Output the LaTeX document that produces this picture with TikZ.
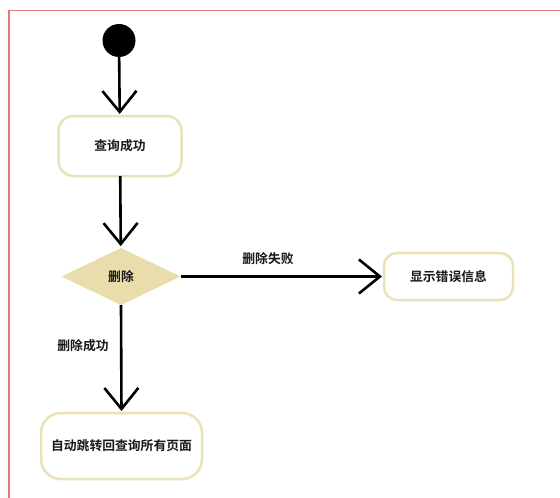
\documentclass[tikz,border=0pt]{standalone}
\usepackage{fontspec}
\newfontfamily\cjk{Noto Sans CJK SC}[BoldFont={Noto Sans CJK SC Bold}]
\usetikzlibrary{shapes.geometric,arrows.meta}
\definecolor{boxline}{HTML}{EAE2B8}
\definecolor{diafill}{HTML}{E9DEAB}
\definecolor{frame}{HTML}{E07A7A}
\tikzset{
  lbl/.style={font=\cjk\bfseries\fontsize{12.8}{14}\selectfont, text=black!90},
  actbox/.style={lbl, draw=boxline, line width=2.5pt, fill=white, rounded corners=15pt, inner sep=0pt, outer sep=0pt},
  flow/.style={line width=2.6pt, -{Straight Barb[length=21pt,width=34pt,line width=2.6pt]}, shorten >=2pt},
}
\begin{document}
\begin{tikzpicture}[x=1pt,y=-1pt]
\useasboundingbox (0,0) rectangle (560,498);
\fill[white] (0,0) rectangle (560,498);
\draw[frame, line width=1.5pt] (9,498) -- (9,10.5) -- (560,10.5);

\node[circle, fill=black, minimum size=33pt, inner sep=0pt, outer sep=0pt] (start) at (119,40.5) {};
\node[actbox, minimum width=123pt, minimum height=60pt] (query) at (120,146) {查询成功};
\node[lbl, diamond, fill=diafill, minimum width=119pt, minimum height=57pt, inner sep=0pt, outer sep=0pt, aspect=2.1] (del) at (121,276.5) {删除};
\node[actbox, minimum width=129pt, minimum height=47pt, rounded corners=13pt] (err) at (448.5,276.5) {显示错误信息};
\node[actbox, minimum width=161pt, minimum height=66pt, rounded corners=20pt] (auto) at (121.5,446) {自动跳转回查询所有页面};

\draw[flow] (start) -- (query);
\draw[flow] (query) -- (del);
\draw[flow] (del.east) -- (err.west);
\draw[flow] (del.south) -- (auto.north);

\node[lbl] (failLbl) at (268,259) {删除失败};
\node[lbl] (okLbl) at (83,346) {删除成功};
\end{tikzpicture}
\end{document}
